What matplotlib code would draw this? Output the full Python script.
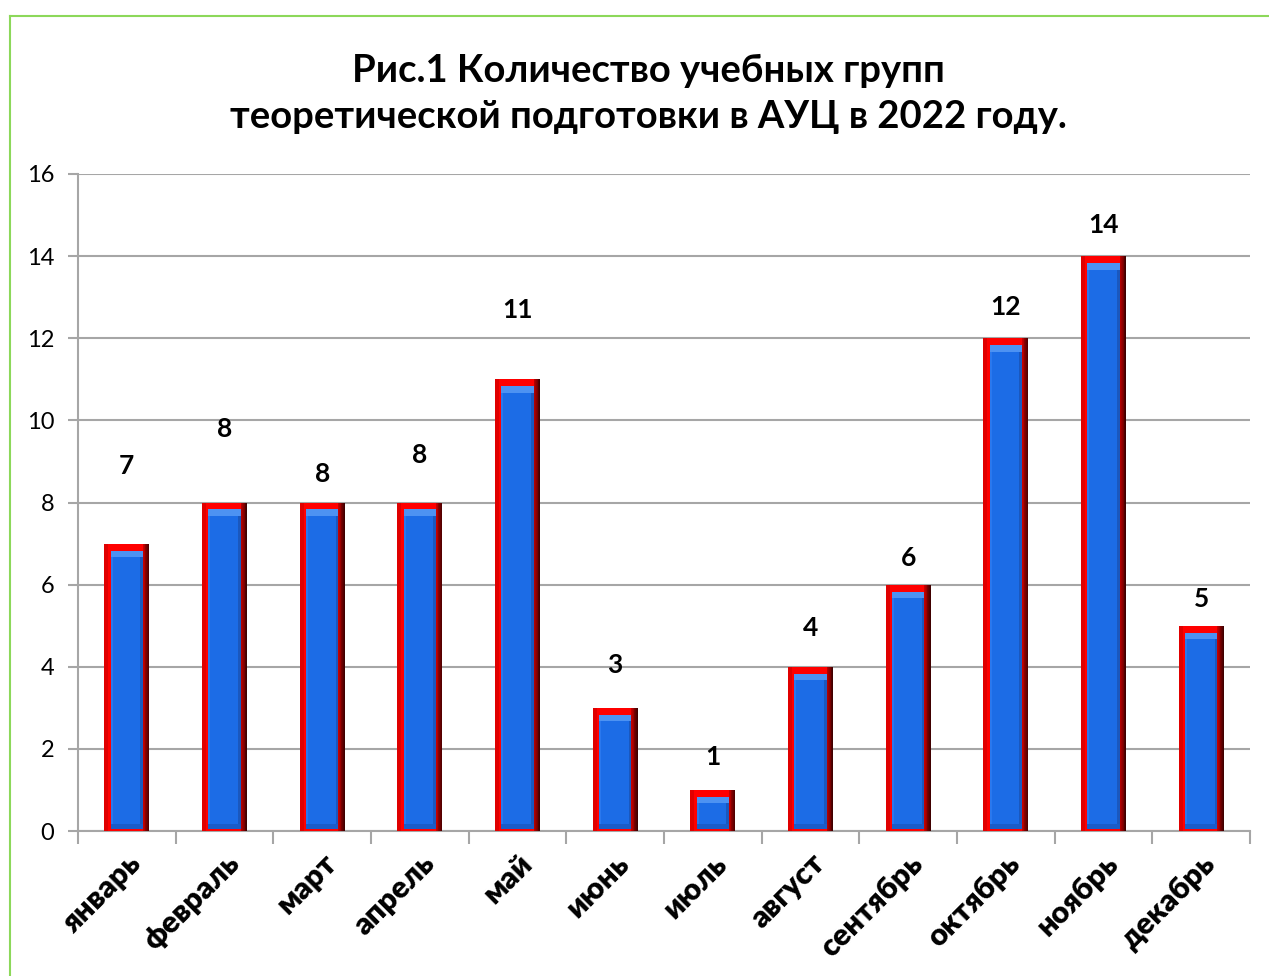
import matplotlib
matplotlib.use("Agg")
import matplotlib.pyplot as plt
import numpy as np
from matplotlib.lines import Line2D

months = ["январь", "февраль", "март", "апрель", "май", "июнь", "июль",
          "август", "сентябрь", "октябрь", "ноябрь", "декабрь"]
groups = [7, 8, 8, 8, 11, 3, 1, 4, 6, 12, 14, 5]
yticks = [0, 2, 4, 6, 8, 10, 12, 14, 16]
title = "Рис.1 Количество учебных групп\nтеоретической подготовки в АУЦ в 2022 году."
# label offsets above bar tops (data units), as placed in the original
label_offsets = [1.9, 1.8, 0.7, 1.15, 1.7, 1.05, 0.8, 0.95, 0.65, 0.75, 0.75, 0.65]

plt.rcParams['font.family'] = ['Lato', 'DejaVu Sans']

fig = plt.figure(figsize=(12.69, 9.76), dpi=100)
ax = fig.add_axes([78/1269, 1-831/976, (1250-78)/1269, (831-174)/976])

x = np.arange(len(months))
w = 0.46
hx = 0.065  # horizontal frame inset
hy = 0.17   # top frame inset
by = 0.06   # bottom inset

# outer red frame
ax.bar(x, groups, width=w, color="#FF0000", zorder=3)
# dark gradient on right side of frame
nstrip = 8
for i in range(nstrip):
    frac = (i + 1) / nstrip
    sw = hx * (1 - i / nstrip)
    col = (0.85 * (1 - frac) + 0.25 * frac, 0, 0)
    ax.bar(x + w/2 - sw/2, groups, width=sw, color=col, zorder=3.1 + i*0.01)
# slightly deeper left edge of frame
ax.bar(x - w/2 + 0.02, groups, width=0.04, color="#E00000", zorder=3.05)
vals = np.array(groups, dtype=float)
iw = w - 2*hx
# inner blue body
ax.bar(x, vals - hy - by, bottom=by, width=iw, color="#1C6CE6", zorder=4)
# inner darker right edge
ax.bar(x + iw/2 - 0.014, vals - hy - by, bottom=by, width=0.028,
       color="#1A58BE", zorder=4.1)
# inner lighter left edge
ax.bar(x - iw/2 + 0.01, vals - hy - by, bottom=by, width=0.02,
       color="#2A78EE", zorder=4.1)
# light top bevel
ax.bar(x, 0.16, bottom=vals - hy - 0.16, width=iw, color="#4D92F2", zorder=4.2)
# slightly darker bottom bevel
ax.bar(x, 0.1, bottom=by, width=iw, color="#1A5CC8", zorder=4.2)

for xi, v, off in zip(x, groups, label_offsets):
    ax.text(xi, v + off, str(v), ha="center", va="center", fontsize=19,
            fontweight="bold", color="black", zorder=5)

ax.set_xlim(-0.5, len(months) - 0.5)
ax.set_ylim(0, 16)
ax.set_yticks(yticks)
ax.set_yticklabels([str(t) for t in yticks], fontsize=17)
ax.yaxis.grid(True, color="#A6A6A6", linewidth=1.5, zorder=0)
ax.set_axisbelow(True)
ax.tick_params(axis="y", length=7, width=1.5, color="#A6A6A6", pad=10)

ax.set_xticks(x)
ax.set_xticklabels(months, rotation=45, ha="right", rotation_mode="anchor",
                   fontsize=22, fontweight="heavy")
ax.set_xticks(np.arange(-0.5, len(months), 1.0), minor=True)
ax.tick_params(axis="x", which="major", length=0, pad=13)
ax.tick_params(axis="x", which="minor", length=9, width=1.5, color="#A6A6A6")

for s in ["top", "right"]:
    ax.spines[s].set_visible(False)
ax.spines["left"].set_color("#A6A6A6")
ax.spines["left"].set_linewidth(1.5)
ax.spines["bottom"].set_color("#A6A6A6")
ax.spines["bottom"].set_linewidth(1.5)

fig.text(0.511, 1 - 94/976, title, ha="center", va="center", fontsize=27.5,
         fontweight="bold", linespacing=1.45)

# green frame (only left and top edges visible)
fig.add_artist(Line2D([10/1269, 10/1269], [0, 1 - 16/976], transform=fig.transFigure,
                      color="#8CD85A", linewidth=1.5))
fig.add_artist(Line2D([10/1269, 1], [1 - 16/976, 1 - 16/976], transform=fig.transFigure,
                      color="#8CD85A", linewidth=1.5))

fig.savefig("out.png", dpi=100)
